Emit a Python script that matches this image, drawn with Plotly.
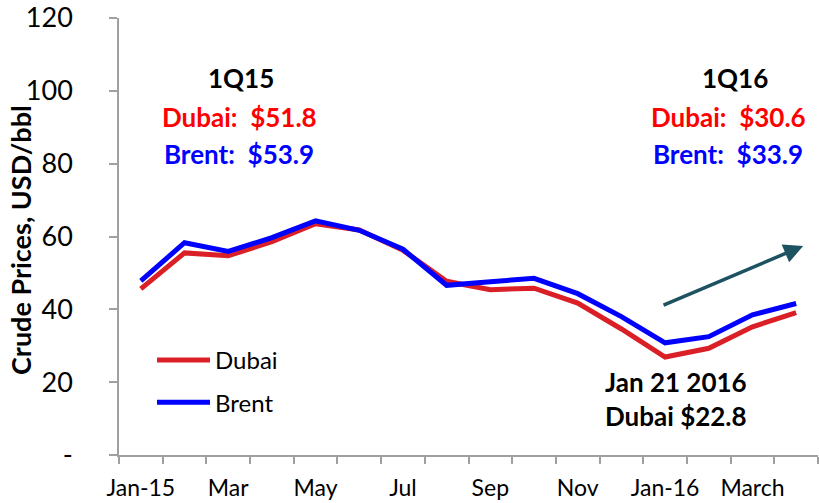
import plotly.graph_objects as go

months = ["Jan-15", "Feb-15", "Mar-15", "Apr-15", "May-15", "Jun-15", "Jul-15", "Aug-15",
          "Sep-15", "Oct-15", "Nov-15", "Dec-15", "Jan-16", "Feb-16", "Mar-16", "Apr-16"]
dubai = [45.6, 55.5, 54.7, 58.6, 63.5, 61.8, 56.2, 47.7, 45.4, 45.8, 41.7, 34.6, 26.9, 29.3, 35.2, 39.1]
brent = [47.8, 58.3, 55.9, 59.7, 64.3, 61.7, 56.5, 46.6, 47.6, 48.5, 44.3, 38.0, 30.8, 32.5, 38.5, 41.6]
tick_labels = ["Jan-15", "Mar", "May", "Jul", "Sep", "Nov", "Jan-16", "March"]
y_ticks = [0, 20, 40, 60, 80, 100, 120]
y_tick_text = ["-", "20", "40", "60", "80", "100", "120"]

FONT = "Lato"
RED_LINE = "#DA1F26"
RED_TXT = "#FF0000"
BLUE = "#0000FF"
idx = list(range(len(months)))

fig = go.Figure()
fig.add_trace(go.Scatter(x=idx, y=dubai, name="Dubai", mode="lines", legendgroup="a",
                         line=dict(color=RED_LINE, width=5), customdata=months))
fig.add_trace(go.Scatter(x=idx, y=brent, name="Brent", mode="lines", legendgroup="b",
                         line=dict(color=BLUE, width=5), customdata=months))

W, H = 819, 503
L, R, T, B = 119, 1, 18, 48
pw, ph = W - L - R, H - T - B
def px(xp): return (xp - L) / pw
def py(yp): return (H - B - yp) / ph

def txt(x, y, t, color="black", size=26):
    fig.add_annotation(x=px(x), y=py(y), xref="paper", yref="paper", text="<b>%s</b>" % t,
                       showarrow=False, font=dict(family=FONT, size=size, color=color),
                       xanchor="center", yanchor="middle")

txt(241, 78, "1Q15")
txt(239, 117, "Dubai:&nbsp;&nbsp;$51.8", RED_TXT)
txt(239, 154, "Brent:&nbsp;&nbsp;$53.9", BLUE)
txt(735, 78, "1Q16")
txt(728, 117, "Dubai:&nbsp;&nbsp;$30.6", RED_TXT)
txt(728, 154, "Brent:&nbsp;&nbsp;$33.9", BLUE)
txt(676, 382, "Jan 21 2016")
txt(676, 416, "Dubai $22.8")

# y-axis title
fig.add_annotation(x=px(21), y=py(240), xref="paper", yref="paper",
                   text="<b>Crude Prices, USD/bbl</b>", textangle=-90, showarrow=False,
                   font=dict(family=FONT, size=27, color="black"),
                   xanchor="center", yanchor="middle")

fig.add_annotation(x=15.16, y=57.4, ax=11.93, ay=41.0, xref="x", yref="y", axref="x", ayref="y",
                   text="", showarrow=True, arrowhead=2, arrowsize=1.1, arrowwidth=3.5,
                   arrowcolor="#1D5260")

fig.update_layout(
    width=W, height=H, margin=dict(l=L, r=R, t=T, b=B, autoexpand=False),
    paper_bgcolor="white", plot_bgcolor="white",
    font=dict(family=FONT, size=24, color="black"),
    showlegend=True,
    legend=dict(x=px(152), y=py(338), xanchor="left", yanchor="top",
                bgcolor="rgba(0,0,0,0)", font=dict(size=24), traceorder="grouped",
                tracegroupgap=8, itemwidth=53),
    xaxis=dict(range=[-0.5, 15.5], tickmode="array", tickvals=[0, 2, 4, 6, 8, 10, 12, 14],
               ticktext=tick_labels, ticks="outside", ticklen=0, ticklabelstandoff=12,
               automargin=False,
               showline=True, linecolor="#A0A0A0", linewidth=1.5, showgrid=False, zeroline=False,
               minor=dict(tickmode="linear", tick0=-0.5, dtick=1, ticks="outside", ticklen=7,
                          tickcolor="#A0A0A0", tickwidth=1.5, showgrid=False),
               tickfont=dict(size=23)),
    yaxis=dict(range=[0, 120], tickmode="array", tickvals=y_ticks, ticktext=y_tick_text,
               ticks="outside", ticklen=8, tickcolor="#A0A0A0", tickwidth=1.5, automargin=False,
               showline=True, linecolor="#A0A0A0", linewidth=1.5, showgrid=False, zeroline=False,
               ticklabelstandoff=31, tickfont=dict(size=27)),
)

fig.write_html("out.html", config={"displayModeBar": False},
               post_script="document.body.style.margin='0px';")
